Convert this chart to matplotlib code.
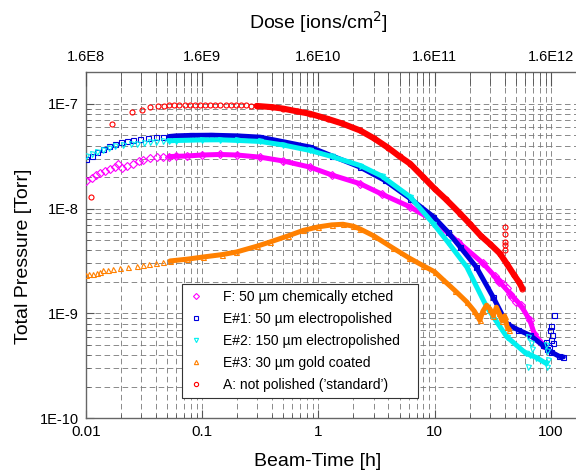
import matplotlib
matplotlib.use("Agg")
import matplotlib.pyplot as plt
import numpy as np
from matplotlib.ticker import LogLocator, NullFormatter, FixedLocator, FixedFormatter

plt.rcParams['font.family'] = ['Liberation Sans', 'DejaVu Sans']
plt.rcParams['lines.scale_dashes'] = False

# ---------------- data ----------------
# F: 50 um chemically etched (magenta diamonds)
f_t = [0.010, 0.0113, 0.0123, 0.0133, 0.0147, 0.0162, 0.0178, 0.0191, 0.0204, 0.0225,
       0.0257, 0.0285, 0.0313, 0.036, 0.0408, 0.046, 0.052, 0.06, 0.074, 0.1, 0.143, 0.2,
       0.316, 0.5, 0.85, 1.3, 2.29, 3.5, 6.15, 9.75, 16, 26.2, 35, 44.5, 55, 66, 72, 78, 85]
f_p = [1.83e-8, 1.97e-8, 2.08e-8, 2.18e-8, 2.30e-8, 2.40e-8, 2.52e-8, 2.64e-8, 2.46e-8, 2.55e-8,
       2.69e-8, 2.82e-8, 2.93e-8, 3.02e-8, 3.10e-8, 3.12e-8, 3.14e-8, 3.16e-8, 3.18e-8, 3.25e-8, 3.29e-8, 3.25e-8,
       3.10e-8, 2.85e-8, 2.49e-8, 2.10e-8, 1.73e-8, 1.38e-8, 1.04e-8, 7.7e-9, 4.8e-9, 3.0e-9, 2.1e-9, 1.55e-9, 1.2e-9, 8.6e-10, 6.4e-10, 5.6e-10, 5.0e-10]
f_out_t = [33, 36, 39, 42, 46, 50]
f_out_p = [2.3e-9, 2.0e-9, 1.9e-9, 1.75e-9, 1.45e-9, 1.3e-9]

# E#1: 50 um electropolished (blue squares)
e1_t = [0.010, 0.0113, 0.0124, 0.0142, 0.016, 0.0179, 0.020, 0.0225, 0.0255, 0.0293,
        0.034, 0.040, 0.046, 0.052, 0.06, 0.08, 0.12, 0.2, 0.316, 0.5, 0.85, 1.3, 2.29,
        3.73, 6.15, 9.75, 13, 16.6, 22.8, 31.8, 41.7, 52, 66, 85, 100, 118, 128]
e1_p = [2.99e-8, 3.17e-8, 3.46e-8, 3.72e-8, 3.95e-8, 4.16e-8, 4.30e-8, 4.47e-8, 4.56e-8, 4.64e-8,
        4.72e-8, 4.80e-8, 4.85e-8, 4.88e-8, 4.95e-8, 5.00e-8, 5.02e-8, 4.95e-8, 4.81e-8, 4.35e-8, 3.87e-8, 3.20e-8, 2.49e-8,
        1.86e-8, 1.25e-8, 8.4e-9, 6.0e-9, 4.3e-9, 2.78e-9, 1.44e-9, 8.0e-10, 7.0e-10, 6.2e-10, 5.0e-10, 4.3e-10, 3.9e-10, 3.85e-10]
e1_out_t = [106, 101, 98, 103, 100, 104, 97, 90, 93]
e1_out_p = [9.6e-10, 7.6e-10, 6.9e-10, 6.2e-10, 5.6e-10, 5.2e-10, 4.8e-10, 5.4e-10, 4.6e-10]

# E#2: 150 um electropolished (cyan triangles down)
e2_t = [0.010, 0.0113, 0.0125, 0.014, 0.016, 0.018, 0.021, 0.0245, 0.0275, 0.032,
        0.036, 0.040, 0.046, 0.052, 0.06, 0.1, 0.143, 0.2, 0.316, 0.5, 0.85, 1.3, 2.29, 3.5,
        6.15, 9.75, 13, 18.9, 28, 41.7, 61, 75, 91]
e2_p = [3.15e-8, 3.30e-8, 3.50e-8, 3.65e-8, 3.80e-8, 3.95e-8, 4.05e-8, 4.12e-8, 4.16e-8, 4.25e-8,
        4.30e-8, 4.35e-8, 4.40e-8, 4.44e-8, 4.47e-8, 4.53e-8, 4.54e-8, 4.48e-8, 4.38e-8, 4.05e-8, 3.59e-8, 3.15e-8, 2.58e-8, 2.05e-8,
        1.30e-8, 7.2e-9, 4.8e-9, 2.78e-9, 1.16e-9, 6.0e-10, 4.16e-10, 3.8e-10, 3.34e-10]
e2_out_t = [64, 67, 69, 66, 63.5, 90, 92, 95, 93]
e2_out_p = [6.0e-10, 5.2e-10, 4.6e-10, 4.0e-10, 3.1e-10, 5.0e-10, 4.4e-10, 3.6e-10, 3.1e-10]

# E#3: 30 um gold coated (orange triangles up)
e3_t = [0.010, 0.0107, 0.0115, 0.0124, 0.0133, 0.0142, 0.0155, 0.017, 0.0197, 0.023,
        0.0275, 0.031, 0.035, 0.040, 0.046, 0.0531, 0.075, 0.1026, 0.15, 0.198, 0.3, 0.385,
        0.55, 0.74, 1.0, 1.3, 1.63, 2.0, 2.29, 3.0, 4.4, 6.0, 8.0, 10, 12, 15, 18.9, 22,
        24.5, 26, 28, 30, 32, 34, 36, 38, 40, 42, 44]
e3_p = [2.35e-9, 2.38e-9, 2.40e-9, 2.45e-9, 2.50e-9, 2.58e-9, 2.60e-9, 2.65e-9, 2.71e-9, 2.78e-9,
        2.84e-9, 2.88e-9, 2.95e-9, 3.02e-9, 3.10e-9, 3.17e-9, 3.30e-9, 3.46e-9, 3.65e-9, 3.86e-9, 4.40e-9, 4.81e-9,
        5.50e-9, 6.20e-9, 6.70e-9, 7.00e-9, 7.10e-9, 6.80e-9, 6.40e-9, 5.50e-9, 4.20e-9, 3.40e-9, 2.85e-9, 2.50e-9, 2.07e-9, 1.65e-9, 1.29e-9, 1.05e-9,
        8.6e-10, 1.05e-9, 1.2e-9, 1.1e-9, 9.5e-10, 1.15e-9, 1.0e-9, 8.5e-10, 9.5e-10, 7.5e-10, 7.0e-10]

# A: not polished ('standard') (red circles)
a_t = [0.0110, 0.0167, 0.0249, 0.0303, 0.0357, 0.042, 0.047, 0.052, 0.058, 0.064, 0.071,
       0.079, 0.087, 0.096, 0.106, 0.117, 0.13, 0.144, 0.16, 0.177, 0.196, 0.217, 0.24,
       0.266, 0.295, 0.4, 0.5, 0.65, 0.85, 1.2, 1.6, 2.29, 3.0, 4.0, 5.0, 6.15, 8.0, 10,
       12.5, 16.6, 20, 25, 30, 36.5, 42, 48, 53, 57]
a_p = [1.29e-8, 6.46e-8, 8.32e-8, 8.83e-8, 9.29e-8, 9.50e-8, 9.60e-8, 9.65e-8, 9.70e-8, 9.75e-8, 9.80e-8,
       9.82e-8, 9.84e-8, 9.85e-8, 9.85e-8, 9.85e-8, 9.84e-8, 9.83e-8, 9.80e-8, 9.78e-8, 9.75e-8, 9.70e-8, 9.65e-8,
       9.60e-8, 9.55e-8, 9.30e-8, 9.00e-8, 8.50e-8, 8.04e-8, 7.20e-8, 6.50e-8, 5.57e-8, 4.70e-8, 3.80e-8, 3.15e-8, 2.69e-8, 2.00e-8, 1.55e-8,
       1.23e-8, 8.96e-9, 7.20e-9, 5.50e-9, 4.60e-9, 3.73e-9, 2.95e-9, 2.35e-9, 2.00e-9, 1.73e-9]
a_out_t = [40.3, 40.3, 40.3, 40.3, 40.3]
a_out_p = [6.68e-9, 5.69e-9, 4.81e-9, 4.47e-9, 4.0e-9]

labels = ['F: 50 \u00b5m chemically etched',
          'E#1: 50 \u00b5m electropolished',
          'E#2: 150 \u00b5m electropolished',
          'E#3: 30 \u00b5m gold coated',
          "A: not polished (\u2019standard\u2019)"]
colors = ['#FF00FF', '#0000DD', '#00F0F0', '#FF8000', '#FF0000']
markers = ['D', 's', 'v', '^', 'o']
band_start = [0.05, 0.05, 0.05, 0.05, 0.29]

x_ticks = [0.01, 0.1, 1, 10, 100]
x_ticklabels = ['0.01', '0.1', '1', '10', '100']
top_ticklabels = ['1.6E8', '1.6E9', '1.6E10', '1.6E11', '1.6E12']
y_ticks = [1e-10, 1e-9, 1e-8, 1e-7]
y_ticklabels = ['1E-10', '1E-9', '1E-8', '1E-7']

# ---------------- figure ----------------
fig = plt.figure(figsize=(5.76, 4.70), dpi=100)
L, R, B, T = 85.7 / 576, 585.9 / 576, 1 - 418.3 / 470, 1 - 72.3 / 470
ax = fig.add_axes([L, B, R - L, T - B])
ax.set_xscale('log')
ax.set_yscale('log')
ax.set_xlim(0.01, 200)
ax.set_ylim(1e-10, 2e-7)

series = [(f_t, f_p, f_out_t, f_out_p), (e1_t, e1_p, e1_out_t, e1_out_p),
          (e2_t, e2_p, e2_out_t, e2_out_p), (e3_t, e3_p, None, None),
          (a_t, a_p, a_out_t, a_out_p)]

handles = []
for i, ((t, p, ot, op), lab, c, m, bs) in enumerate(zip(series, labels, colors, markers, band_start)):
    t = np.array(t)
    p = np.array(p)
    mask = t >= bs
    lw = 3.6 if bs < 0.1 else 4.4
    z = 3 + 0.1 * i
    h, = ax.plot(t, p, linestyle='none', marker=m, ms=3.6, mfc='none', mec=c, mew=0.8, zorder=z, label=lab)
    ax.plot(t[mask], p[mask], '-', color=c, lw=lw, solid_capstyle='round', solid_joinstyle='round', zorder=z + 0.01)
    if ot is not None:
        ax.plot(ot, op, linestyle='none', marker=m, ms=3.6, mfc='none', mec=c, mew=0.8, zorder=z + 0.02)
    handles.append(h)

grid_kw = dict(color='#777777', linewidth=0.6, dashes=(4, 2.5))
ax.grid(True, which='major', **grid_kw)
ax.grid(True, which='minor', **grid_kw)
ax.set_axisbelow(True)

ax.xaxis.set_major_locator(FixedLocator(x_ticks))
ax.xaxis.set_major_formatter(FixedFormatter(x_ticklabels))
ax.xaxis.set_minor_locator(LogLocator(base=10, subs=np.arange(2, 10), numticks=20))
ax.xaxis.set_minor_formatter(NullFormatter())
ax.yaxis.set_major_locator(FixedLocator(y_ticks))
ax.yaxis.set_major_formatter(FixedFormatter(y_ticklabels))
ax.yaxis.set_minor_locator(LogLocator(base=10, subs=np.arange(2, 10), numticks=20))
ax.yaxis.set_minor_formatter(NullFormatter())

ax.tick_params(axis='both', which='major', direction='in', length=6, width=0.8, color='#555555')
ax.tick_params(axis='both', which='minor', direction='in', length=3, width=0.6, color='#555555')
ax.tick_params(axis='x', which='major', labelsize=11, pad=5)
ax.tick_params(axis='y', which='major', labelsize=10.5, pad=5)

for s in ['left', 'bottom', 'top', 'right']:
    ax.spines[s].set_color('#666666')
    ax.spines[s].set_linewidth(1.0)

# top axis (dose)
ax2 = ax.twiny()
ax2.set_xscale('log')
ax2.set_xlim(ax.get_xlim())
ax2.xaxis.set_major_locator(FixedLocator(x_ticks))
ax2.xaxis.set_major_formatter(FixedFormatter(top_ticklabels))
ax2.xaxis.set_minor_locator(LogLocator(base=10, subs=np.arange(2, 10), numticks=20))
ax2.xaxis.set_minor_formatter(NullFormatter())
ax2.tick_params(axis='x', which='major', direction='in', length=10, width=0.8, color='#555555', labelsize=10.5, pad=6)
ax2.tick_params(axis='x', which='minor', direction='in', length=10, width=0.6, color='#555555')
for s in ax2.spines.values():
    s.set_visible(False)

ax_w_px = 585.9 - 85.7
ax_h_px = 418.3 - 72.3
leg_box = ((181.7 - 85.7) / ax_w_px, (418.3 - 398.3) / ax_h_px,
           (418.0 - 181.7) / ax_w_px, (398.3 - 291.7) / ax_h_px)
leg = ax.legend(handles=handles, loc='lower left', bbox_to_anchor=leg_box, mode='expand',
                fontsize=10, frameon=True, fancybox=False, edgecolor='#333333', framealpha=1,
                borderpad=0.45, labelspacing=0.58, handlelength=1.2, handletextpad=1.3, borderaxespad=0,
                markerscale=0.85)
leg.get_frame().set_linewidth(0.8)
leg.set_zorder(5)

fig.text(24 / 576, 1 - 256.5 / 470, 'Total Pressure [Torr]', rotation=90, ha='center', va='center', fontsize=14)
fig.text(318 / 576, 1 - 461 / 470, 'Beam-Time [h]', ha='center', va='center', fontsize=14)
fig.text(318 / 576, 1 - 22 / 470, 'Dose [ions/cm$^2$]', ha='center', va='center', fontsize=14)

fig.savefig('out.png', dpi=100)
